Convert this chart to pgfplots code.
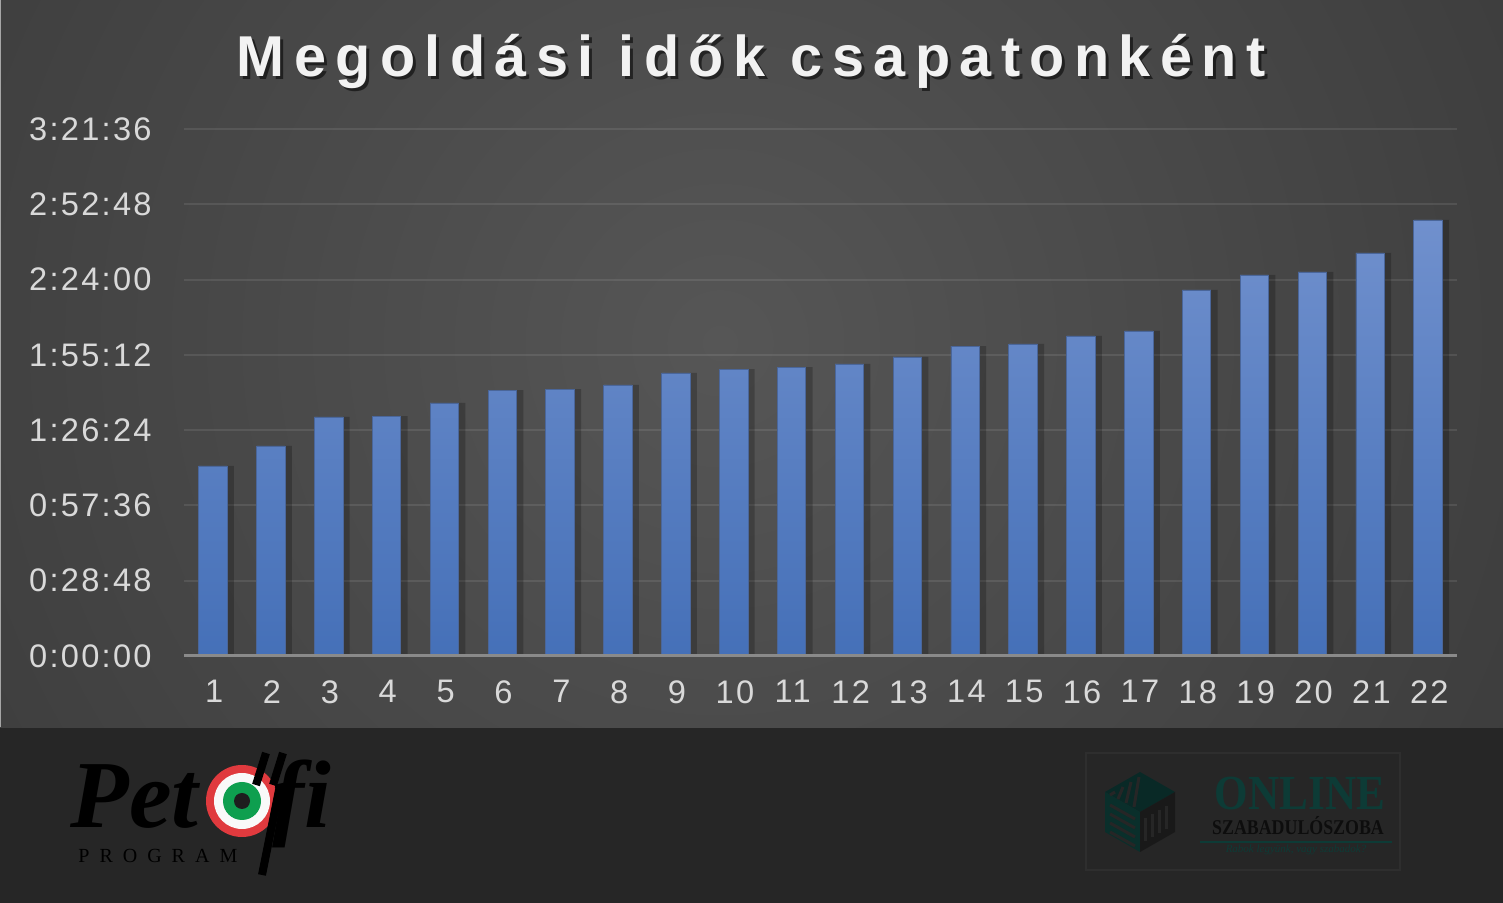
\documentclass[border=0pt]{standalone}
\usepackage{pgfplots}
\pgfplotsset{compat=1.18}
\usepackage{fontspec}
\setmainfont{Liberation Sans}
\newfontfamily\titlefont[LetterSpace=16.3]{Liberation Sans Bold}
\newfontfamily\tickfont[LetterSpace=7]{Liberation Sans}
\newfontfamily\serifbi{Liberation Serif Bold Italic}
\newfontfamily\serifb{Liberation Serif Bold}
\newfontfamily\progfont[LetterSpace=50]{Liberation Serif}
\newfontfamily\tagfont{Liberation Serif Italic}
\definecolor{bgdark}{HTML}{262626}
\definecolor{bglight}{HTML}{565656}
\definecolor{ticktxt}{HTML}{D9D9D9}
\definecolor{titletxt}{HTML}{F2F2F2}
\definecolor{bartop}{HTML}{7090CD}
\definecolor{barbot}{HTML}{4570B8}
\definecolor{baredge}{HTML}{4A669A}
\definecolor{baseln}{HTML}{8A8A8A}
\definecolor{teal}{HTML}{0D3B36}
\definecolor{hred}{HTML}{E03A3E}
\definecolor{hgreen}{HTML}{0E9F4F}
\pgfplotstableread{
x y
1 4361
2 4820
3 5486
4 5508
5 5807
6 6105
7 6128
8 6220
9 6496
10 6587
11 6633
12 6702
13 6863
14 7115
15 7161
16 7345
17 7460
18 8401
19 8745
20 8814
21 9250
22 10007
}\times
\begin{document}
\begin{tikzpicture}[x=0.5pt,y=0.5pt]
\useasboundingbox (0,0) rectangle (1503,903);
\fill[bgdark] (0,0) rectangle (1503,903);
\begin{scope}
\clip (0,175) rectangle (1503,903);
\shade[inner color=bglight, outer color=bgdark] (720,560) circle (1700);
\end{scope}
\draw[gray!70, line width=0.6pt] (0.5,176) -- (0.5,903);
% title
\node[anchor=base, text=black, opacity=0.55, font=\titlefont\fontsize{28.8}{34}\selectfont] at (754,823) {Megoldási idők csapatonként};
\node[anchor=base, text=titletxt, font=\titlefont\fontsize{28.8}{34}\selectfont] at (751,826) {Megoldási idők csapatonként};
\begin{axis}[
  at={(92pt,123.5pt)}, anchor=south west,
  scale only axis, width=636.5pt, height=263.5pt,
  xmin=0.5, xmax=22.5, ymin=0, ymax=12096,
  clip=false,
  scaled y ticks=false,
  axis line style={draw=none},
  tick style={draw=none},
  ytick={0,1728,3456,5184,6912,8640,10368,12096},
  yticklabels={0:00:00,0:28:48,0:57:36,1:26:24,1:55:12,2:24:00,2:52:48,3:21:36},
  xtick={1,...,22},
  xticklabels={1,2,3,4,5,6,7,8,9,10,11,12,13,14,15,16,17,18,19,20,21,22},
  ymajorgrids,
  grid style={white, opacity=0.09, line width=1pt},
  tick label style={font=\tickfont\fontsize{16.3}{18}\selectfont, text=ticktxt, inner sep=0pt},
  yticklabel style={anchor=east, xshift=-16pt},
  xticklabel style={anchor=north, yshift=-12pt, xshift=0.6pt},
]
\addplot[ybar, bar width=16pt, bar shift=2.5pt, fill=black, draw=none, opacity=0.22] table[x=x,y=y] {\times};
\addplot[ybar, bar width=14.25pt, bar shift=0pt, top color=bartop, bottom color=barbot, draw=baredge, line width=0.4pt] table[x=x,y=y] {\times};
\draw[baseln, line width=1.5pt] (axis cs:0.5,0) -- (axis cs:22.5,0);
\end{axis}
% Petofi logo
\node[anchor=base west, inner sep=0pt, text=black, font=\serifbi\fontsize{48}{48}\selectfont] at (70,75) {Pet};
\fill[hred] (242,102) circle (36);
\fill[white!95!gray] (242,102) circle (28);
\fill[hgreen] (242,102) circle (19);
\fill[bgdark!80!black] (242,102) circle (8);
\node[anchor=base west, inner sep=0pt, text=black, font=\serifbi\fontsize{48}{48}\selectfont] at (272,75) {fi};
\draw[black, line width=4pt] (266,150) -- (256,118);
\draw[black, line width=4pt] (283,150) -- (273,118);
\draw[black, line width=4pt] (280,118) -- (262,28);
\node[anchor=base west, inner sep=0pt, text=black, font=\progfont\fontsize{10}{10}\selectfont] at (78,40) {PROGRAM};
% Online szabadulószoba logo
\draw[white, opacity=0.04, line width=0.6pt] (1086,33) rectangle (1400,150);
\fill[teal!70!black] (1140,91) -- (1105,111) -- (1140,131) -- (1175,111) -- cycle;
\fill[teal!80!black] (1140,91) -- (1105,111) -- (1105,71) -- (1140,51) -- cycle;
\fill[black!90] (1140,91) -- (1175,111) -- (1175,71) -- (1140,51) -- cycle;
\foreach \i in {0,1,2,3} {
  \draw[bgdark, line width=1.5pt] (1110+\i*8,108-\i*4) -- (1115+\i*8,111+\i*5);
  \draw[bgdark, line width=1.5pt] (1145+\i*7,85+\i*4) -- (1145+\i*7,62+\i*4);
  \draw[bgdark, line width=1.5pt] (1110,98-\i*9) -- (1135,84-\i*9);
}
\node[anchor=base, inner sep=0pt, text=teal, xscale=0.88, font=\serifb\fontsize{24.5}{24.5}\selectfont] at (1300,93) {ONLINE};
\node[anchor=base, inner sep=0pt, text=black!95, xscale=0.85, font=\serifb\fontsize{10.5}{10.5}\selectfont] at (1298,68) {SZABADULÓSZOBA};
\draw[teal, line width=1pt] (1200,61) -- (1392,61);
\node[anchor=center, inner sep=0pt, text=teal, font=\tagfont\fontsize{5.5}{6}\selectfont] at (1296,53) {Rabok legyünk, vagy szabadok?};
\end{tikzpicture}
\end{document}
